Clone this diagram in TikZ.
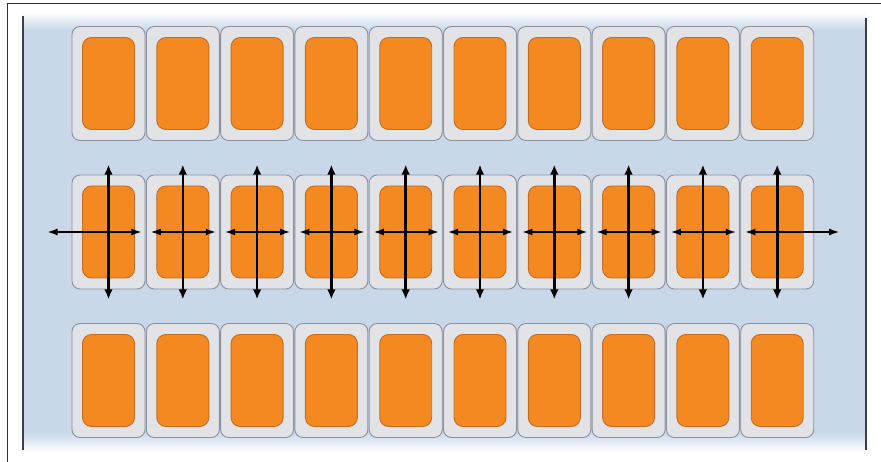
\documentclass[tikz,border=0pt]{standalone}
\usepackage{tikz}
\usetikzlibrary{arrows.meta, positioning, calc, backgrounds}

\definecolor{panelBlue}{RGB}{201,216,233}
\definecolor{panelEdge}{RGB}{58,62,70}
\definecolor{cellGrey}{RGB}{226,227,231}
\definecolor{cellLine}{RGB}{138,144,156}
\definecolor{coreOrange}{RGB}{243,137,32}
\definecolor{coreLine}{RGB}{196,108,36}

\begin{document}
\begin{tikzpicture}[
        x=1pt, y=-1pt, % pixel coordinates, y going down
        % Styles for the cells
        cell/.style={
            rectangle,
            draw=cellLine,
            line width=0.9pt,
            rounded corners=8pt,
            minimum width=73pt,
            minimum height=114pt,
            inner sep=0pt,
            fill=cellGrey
        },
        core/.style={
            rectangle,
            draw=coreLine,
            line width=0.9pt,
            rounded corners=9pt,
            minimum width=52pt,
            minimum height=92pt,
            inner sep=0pt,
            fill=coreOrange
        },
        varrow/.style={
            {Latex[length=10pt,width=8.5pt]}-{Latex[length=10pt,width=8.5pt]},
            line width=2.6pt,
            black
        },
        harrow/.style={
            {Latex[length=10pt,width=7pt]}-{Latex[length=10pt,width=7pt]},
            line width=1.4pt,
            black
        }
    ]

    \useasboundingbox (0,0) rectangle (881,462);

    % --- 1. FRAME AND PANEL ---
    \draw[line width=0.8pt, black!80] (7,462) -- (7,3) -- (881,3);
    \fill[panelBlue] (22,12) rectangle (866,452);
    \fill[top color=white, bottom color=panelBlue] (22,12) rectangle (866,30);
    \fill[top color=panelBlue, bottom color=white] (22,432) rectangle (866,452);
    \draw[line width=2.4pt, panelEdge] (23,16) -- (23,450);
    \draw[line width=2.4pt, panelEdge] (866,18) -- (866,450);

    % --- 2. CELLS (three rows of ten) ---
    \foreach \i in {1,...,10} {
        \node[cell] (topCell\i) at ({108.5+74.3*(\i-1)}, 83.5) {};
        \node[core] (topCore\i) at (topCell\i) {};

        \node[cell] (midCell\i) at ({108.5+74.3*(\i-1)}, 232) {};
        \node[core] (midCore\i) at (midCell\i) {};

        \node[cell] (botCell\i) at ({108.5+74.3*(\i-1)}, 380.5) {};
        \node[core] (botCore\i) at (botCell\i) {};
    }

    % --- 3. ARROWS ON THE MIDDLE ROW ---
    \foreach \i in {1,...,10} {
        % tips of the vertical arrow
        \coordinate (nTip\i) at ([yshift=10pt]midCell\i.north);
        \coordinate (sTip\i) at ([yshift=-10pt]midCell\i.south);
        % tips of the horizontal arrow, the outer ones reach further
        \ifnum\i=1
            \coordinate (wTip\i) at ([xshift=-24pt]midCell\i.west);
        \else
            \coordinate (wTip\i) at ([xshift=5pt]midCell\i.west);
        \fi
        \ifnum\i=10
            \coordinate (eTip\i) at ([xshift=25pt]midCell\i.east);
        \else
            \coordinate (eTip\i) at ([xshift=-4pt]midCell\i.east);
        \fi
        \draw[harrow] (wTip\i) -- (eTip\i);
        \draw[varrow] (nTip\i) -- (sTip\i);
    }

\end{tikzpicture}
\end{document}
